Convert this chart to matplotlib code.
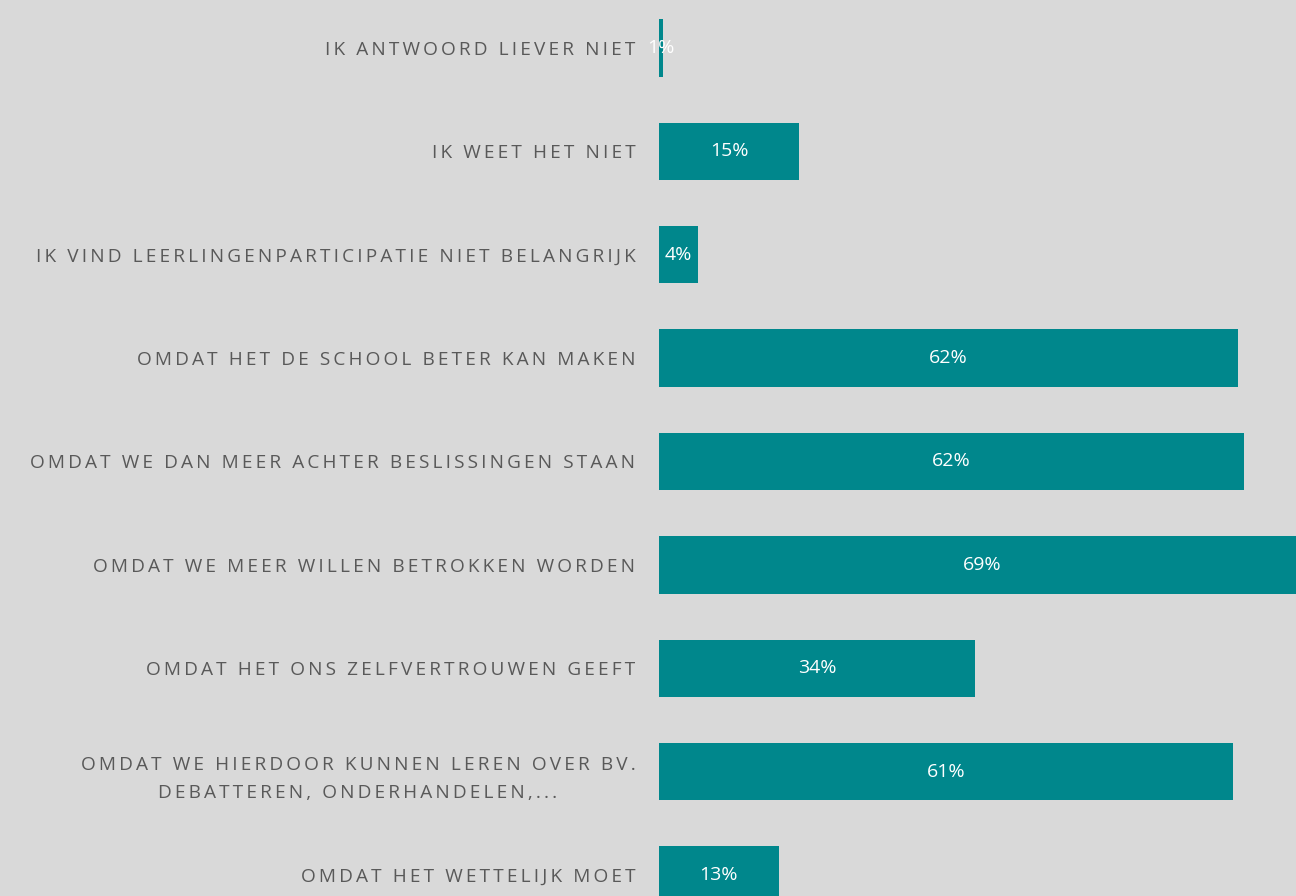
import matplotlib.pyplot as plt

plt.rcParams['font.family'] = ['Open Sans', 'DejaVu Sans']

# antwoorden (van boven naar onder) en percentages
categories = ['IK ANTWOORD LIEVER NIET',
              'IK WEET HET NIET',
              'IK VIND LEERLINGENPARTICIPATIE NIET BELANGRIJK',
              'OMDAT HET DE SCHOOL BETER KAN MAKEN',
              'OMDAT WE DAN MEER ACHTER BESLISSINGEN STAAN',
              'OMDAT WE MEER WILLEN BETROKKEN WORDEN',
              'OMDAT HET ONS ZELFVERTROUWEN GEEFT',
              'OMDAT WE HIERDOOR KUNNEN LEREN OVER BV.\nDEBATTEREN, ONDERHANDELEN,...',
              'OMDAT HET WETTELIJK MOET']
values = [0.4, 15.0, 4.2, 61.9, 62.5, 69.0, 33.8, 61.4, 12.8]
value_labels = ['1%', '15%', '4%', '62%', '62%', '69%', '34%', '61%', '13%']

bg = '#d9d9d9'
teal = '#00878c'


def spaced(s):
    # letter spacing zoals in het origineel
    return '\n'.join('\u2009'.join(line) for line in s.split('\n'))


fig = plt.figure(figsize=(12.96, 8.96), dpi=100, facecolor=bg)
ax = fig.add_axes([659 / 1296, 0, 1 - 659 / 1296, 1])
ax.set_facecolor(bg)

ypos = list(range(len(categories)))
ax.barh(ypos, values, height=0.555, color=teal)

for y, v, lab in zip(ypos, values, value_labels):
    ax.text(v / 2, y, lab, ha='center', va='center', color='white', fontsize=14)

ax.set_xlim(0, 68.1)
ax.set_ylim(8 + 21 / 103.4, -48 / 103.4)
ax.set_yticks(ypos)
ax.set_yticklabels([spaced(c) for c in categories], fontsize=13.7, color='#595959',
                   multialignment='center', linespacing=1.75)
ax.tick_params(axis='y', length=0, pad=17)
ax.set_xticks([])
for sp in ax.spines.values():
    sp.set_visible(False)

fig.savefig('out.png', dpi=100, facecolor=bg)
